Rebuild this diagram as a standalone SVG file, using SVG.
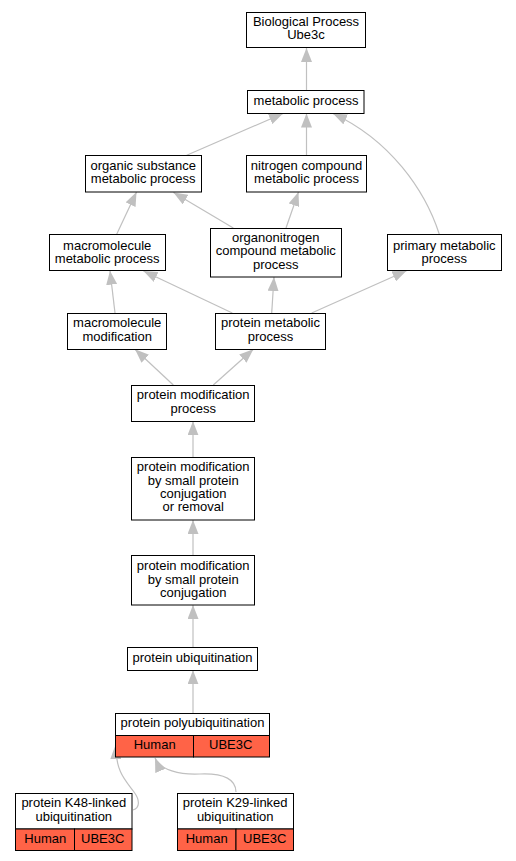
<svg xmlns="http://www.w3.org/2000/svg" width="516" height="861" viewBox="0 0 516 861">
<style>
.n{fill:#fff;stroke:#000;stroke-width:1}
.r{fill:#ff6347;stroke:#000;stroke-width:1}
text{font-family:"Liberation Sans",Arial,sans-serif;font-size:13px;text-anchor:middle;fill:#000}
.e path{fill:none;stroke:#c0c0c0;stroke-width:1.2;marker-end:url(#a)}
</style>
<defs>
<marker id="a" markerUnits="userSpaceOnUse" markerWidth="14" markerHeight="11" viewBox="0 0 14 11" refX="14" refY="5.5" orient="auto">
<path d="M0,0 L14,5.5 L0,11 z" fill="#c0c0c0"/>
</marker>
</defs>
<rect width="516" height="861" fill="#fff"/>
<g class="e" id="edges">
<path d="M306.5,90 L306.5,48"/>
<path d="M186.7,155.3 L283,113.5"/>
<path d="M306.5,155.3 L306.5,113.5"/>
<path d="M439.3,234.3 C425,190 390,140 333,113.5"/>
<path d="M116.7,234.3 L136.5,192"/>
<path d="M233.3,228 L173.5,192.5"/>
<path d="M286,228 L298.5,192"/>
<path d="M115,313 L110,270.7"/>
<path d="M232.3,313 L143.5,271"/>
<path d="M271.7,313 L274,277"/>
<path d="M311.7,313 L406.5,270.7"/>
<path d="M173.3,385 L135,349.3"/>
<path d="M213.3,385 L253.3,349.3"/>
<path d="M193,457 L193,421.3"/>
<path d="M193,555.7 L193,520"/>
<path d="M193,647.7 L193,605"/>
<path d="M193,713 L193,670.3"/>
<path d="M133,810 C140,808 140,800 134,792 C125,780 116,772 115.5,745"/>
<path d="M236,792 C236,780 225,773 200,774 C180,775 160,770 155,758"/>
</g>
<g id="bp"><rect class="n" x="246.5" y="12.5" width="119" height="35"/><text x="306" y="26">Biological Process</text><text x="306" y="39">Ube3c</text></g>
<g id="metabolic"><rect class="n" x="247.5" y="90.5" width="116.5" height="23"/><text x="306" y="105">metabolic process</text></g>
<g id="organic"><rect class="n" x="85.5" y="155.5" width="116" height="36.5"/><text x="143.2" y="170">organic substance</text><text x="143.2" y="183">metabolic process</text></g>
<g id="nitrogen"><rect class="n" x="246.5" y="155.5" width="120" height="36.5"/><text x="306.5" y="170">nitrogen compound</text><text x="306.5" y="183">metabolic process</text></g>
<g id="macrometab"><rect class="n" x="49.5" y="234.5" width="116" height="36"/><text x="107.2" y="249.5">macromolecule</text><text x="107.2" y="262.5">metabolic process</text></g>
<g id="organonitrogen"><rect class="n" x="210.5" y="228.5" width="131" height="48.5"/><text x="275.8" y="242">organonitrogen</text><text x="275.8" y="255">compound metabolic</text><text x="275.8" y="269">process</text></g>
<g id="primary"><rect class="n" x="387.5" y="234.5" width="114" height="36"/><text x="444.3" y="249.5">primary metabolic</text><text x="444.3" y="262.5">process</text></g>
<g id="macromod"><rect class="n" x="67.5" y="313.5" width="99" height="36"/><text x="117.2" y="327">macromolecule</text><text x="117.2" y="341">modification</text></g>
<g id="protmetab"><rect class="n" x="215.5" y="313.5" width="110" height="36"/><text x="270.5" y="327">protein metabolic</text><text x="270.5" y="341">process</text></g>
<g id="pmp"><rect class="n" x="131.5" y="385.5" width="123" height="36"/><text x="193.2" y="399">protein modification</text><text x="193.2" y="413">process</text></g>
<g id="pmscr"><rect class="n" x="131.5" y="457.5" width="123" height="62.5"/><text x="193.2" y="471">protein modification</text><text x="193.2" y="485">by small protein</text><text x="193.2" y="498">conjugation</text><text x="193.2" y="511">or removal</text></g>
<g id="pmsc"><rect class="n" x="131.5" y="555.5" width="123" height="49.5"/><text x="193.2" y="570">protein modification</text><text x="193.2" y="583.5">by small protein</text><text x="193.2" y="597">conjugation</text></g>
<g id="ubiq"><rect class="n" x="127.5" y="647.5" width="130" height="23"/><text x="192.5" y="662">protein ubiquitination</text></g>
<g id="poly"><rect class="n" x="115.5" y="713.5" width="154" height="22"/><rect class="r" x="115.5" y="735.5" width="78" height="21.5"/><rect class="r" x="193.5" y="735.5" width="76" height="21.5"/><text x="192.5" y="727">protein polyubiquitination</text><text x="154.7" y="749">Human</text><text x="230.7" y="749">UBE3C</text></g>
<g id="k48"><rect class="n" x="15.5" y="793.5" width="116.5" height="35.5"/><rect class="r" x="15.5" y="829" width="59" height="21.5"/><rect class="r" x="74.5" y="829" width="57.5" height="21.5"/><text x="73.8" y="807">protein K48-linked</text><text x="73.8" y="821">ubiquitination</text><text x="45.3" y="843">Human</text><text x="102.7" y="843">UBE3C</text></g>
<g id="k29"><rect class="n" x="177.5" y="793.5" width="116" height="35.5"/><rect class="r" x="177.5" y="829" width="58.5" height="21.5"/><rect class="r" x="236" y="829" width="57.5" height="21.5"/><text x="235.2" y="807">protein K29-linked</text><text x="235.2" y="821">ubiquitination</text><text x="206.7" y="843">Human</text><text x="264.7" y="843">UBE3C</text></g>
</svg>
